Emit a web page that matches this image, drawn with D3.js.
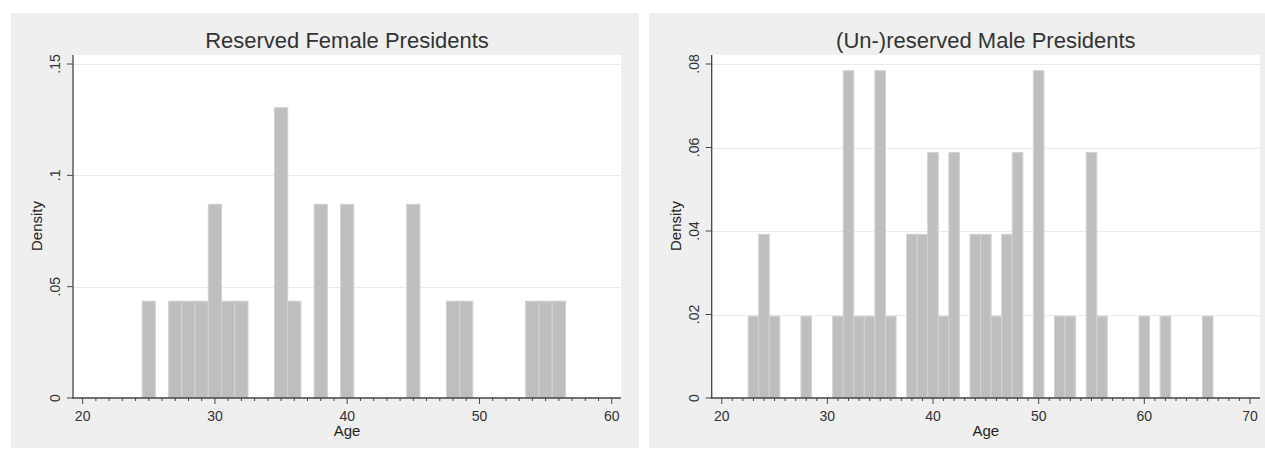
<!DOCTYPE html>
<html>
  <head>
    <meta charset="utf-8">
    <script src="https://d3js.org/d3.v7.min.js"></script>
    <style>
      body { margin: 0; background: #fff; font-family: "Liberation Sans", Arial, sans-serif; }
      .panel { fill: #efefef; }
      .plotbg { fill: #fff; }
      .grid { stroke: #ebebeb; stroke-width: 1px; }
      .axisline { stroke: #444; stroke-width: 1.3px; }
      .tick { stroke: #444; stroke-width: 1px; }
      .bar { fill: #bebebe; stroke: #d2d2d2; stroke-width: 1px; }
      .ticklab { font-size: 14px; fill: #333; }
      .axtitle { font-size: 15px; fill: #222; }
      .title { font-size: 22px; fill: #333; }
    </style>
  </head>
  <body>
    <div id="chart"></div>
    <script>
      // female presidents: age bin centres and density
      var femaleAges = [25, 27, 28, 29, 30, 31, 32, 35, 36, 38, 40, 45, 48, 49, 54, 55, 56]
      var femaleDensity = [.0435, .0435, .0435, .0435, .087, .0435, .0435, .1304, .0435, .087, .087, .087, .0435, .0435, .0435, .0435, .0435]
      var femaleYTicks = [0, .05, .1, .15]

      // male presidents
      var maleAges = [23, 24, 25, 28, 31, 32, 33, 34, 35, 36, 38, 39, 40, 41, 42, 44, 45, 46, 47, 48, 50, 52, 53, 55, 56, 60, 62, 66]
      var maleDensity = [.0196, .0392, .0196, .0196, .0196, .0784, .0196, .0196, .0784, .0196, .0392, .0392, .0588, .0196, .0588, .0392, .0392, .0196, .0392, .0588, .0784, .0196, .0196, .0588, .0196, .0196, .0196, .0196]
      var maleYTicks = [0, .02, .04, .06, .08]

      var femaleXTicks = [20, 30, 40, 50, 60]
      var maleXTicks = [20, 30, 40, 50, 60, 70]

      var svg = d3.select("#chart").append("svg")
        .attr("width", 1265)
        .attr("height", 450)

      function fmt(d) {
        if (d === 0) return "0"
        return d3.format(".2~f")(d).replace(/^0/, "")
      }

      function drawPanel(opt) {
        var g = svg.append("g")
        g.append("rect").attr("class", "panel")
          .attr("x", opt.px0).attr("y", 13)
          .attr("width", opt.px1 - opt.px0).attr("height", 435)

        var x = d3.scaleLinear().domain(opt.xdom).range([opt.left, opt.right])
        var y = d3.scaleLinear().domain([0, opt.ymax]).range([398, 64])
        var top = 55, bottom = 398

        g.append("rect").attr("class", "plotbg")
          .attr("x", opt.left).attr("y", top)
          .attr("width", opt.right - opt.left).attr("height", bottom - top)

        // gridlines
        g.selectAll(".grid").data(opt.yticks.filter(function(d){ return d > 0 }))
          .enter().append("line").attr("class", "grid")
          .attr("x1", opt.left).attr("x2", opt.right)
          .attr("y1", function(d){ return Math.round(y(d)) + 0.5 })
          .attr("y2", function(d){ return Math.round(y(d)) + 0.5 })

        // bars (bins of width 1 centred on the age)
        g.selectAll(".bar").data(opt.ages)
          .enter().append("rect").attr("class", "bar")
          .attr("x", function(d){ return x(d - 0.5) })
          .attr("width", function(d){ return x(d + 0.5) - x(d - 0.5) })
          .attr("y", function(d, i){ return y(opt.dens[i]) })
          .attr("height", function(d, i){ return y(0) - y(opt.dens[i]) })

        // y axis
        g.append("line").attr("class", "axisline")
          .attr("x1", opt.left).attr("x2", opt.left)
          .attr("y1", top).attr("y2", bottom)
        var yt = g.selectAll(".ytick").data(opt.yticks).enter().append("g")
          .attr("transform", function(d){ return "translate(" + opt.left + "," + y(d) + ")" })
        yt.append("line").attr("class", "tick").attr("x1", -6).attr("x2", 0)
        yt.append("text").attr("class", "ticklab")
          .attr("transform", "translate(-13,0) rotate(-90)")
          .attr("text-anchor", "middle")
          .text(fmt)
        g.append("text").attr("class", "axtitle")
          .attr("transform", "translate(" + (opt.left - 31) + "," + 226 + ") rotate(-90)")
          .attr("text-anchor", "middle")
          .text("Density")

        // x axis
        g.append("line").attr("class", "axisline")
          .attr("x1", opt.left - 1).attr("x2", opt.right)
          .attr("y1", bottom).attr("y2", bottom)
        var minor = d3.range(Math.ceil(opt.xdom[0]), Math.floor(opt.xdom[1]) + 1)
        g.selectAll(".minor").data(minor).enter().append("line").attr("class", "tick")
          .attr("x1", function(d){ return x(d) }).attr("x2", function(d){ return x(d) })
          .attr("y1", bottom).attr("y2", function(d){ return d % 10 === 0 ? bottom + 6 : bottom + 3 })
        g.selectAll(".xlab").data(opt.xticks).enter().append("text").attr("class", "ticklab")
          .attr("x", function(d){ return x(d) }).attr("y", 421)
          .attr("text-anchor", "middle")
          .text(function(d){ return d })
        g.append("text").attr("class", "axtitle")
          .attr("x", (opt.left + opt.right) / 2).attr("y", 436)
          .attr("text-anchor", "middle")
          .text("Age")

        g.append("text").attr("class", "title")
          .attr("x", (opt.left + opt.right) / 2).attr("y", 48)
          .attr("text-anchor", "middle")
          .text(opt.title)
      }

      drawPanel({
        px0: 11, px1: 639, left: 73, right: 621,
        xdom: [19.27, 60.70], ymax: 0.15,
        ages: femaleAges, dens: femaleDensity,
        yticks: femaleYTicks, xticks: femaleXTicks,
        title: "Reserved Female Presidents"
      })
      drawPanel({
        px0: 649, px1: 1265, left: 711.7, right: 1260,
        xdom: [19.05, 70.95], ymax: 0.08,
        ages: maleAges, dens: maleDensity,
        yticks: maleYTicks, xticks: maleXTicks,
        title: "(Un-)reserved Male Presidents"
      })
    </script>
  </body>
</html>
